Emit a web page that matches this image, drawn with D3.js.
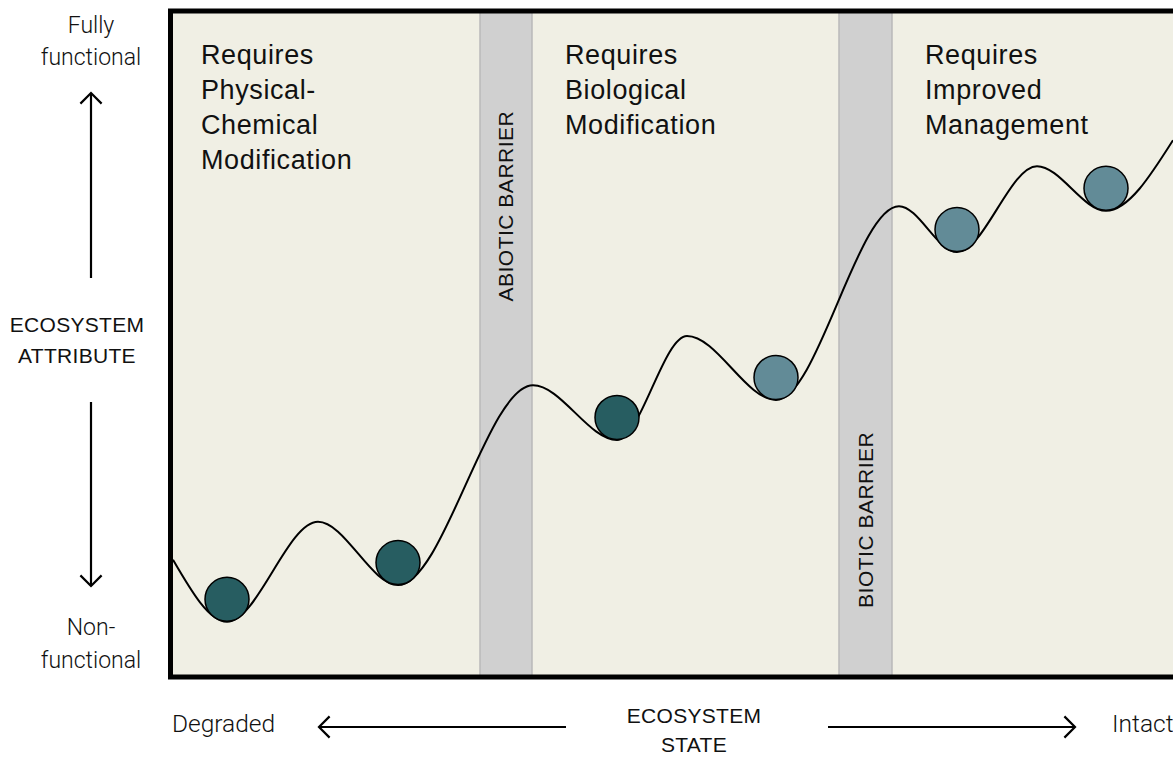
<!DOCTYPE html>
<html><head><meta charset="utf-8">
<script src="https://cdn.jsdelivr.net/npm/d3@7"></script>
<style>
html,body{margin:0;padding:0;background:#fff;}
svg{display:block;}
</style></head>
<body>
<svg id="chart" width="1173" height="757"></svg>
<script>
// ---- data (x: ecosystem state 0-100, y: ecosystem attribute 0-100) ----
const landscapeX = [0, 5.4, 14.5, 22.5, 36.0, 44.4, 51.4, 60.3, 72.6, 78.4, 86.4, 93.3, 100];
const landscapeY = [17.6, 8.3, 23.3, 13.8, 43.8, 35.6, 51.2, 41.6, 70.7, 63.8, 76.7, 70.0, 80.6];
const ballX = [5.4, 22.5, 44.4, 60.3, 78.4, 93.3];
const ballY = [8.3, 13.8, 35.6, 41.6, 63.8, 70.0];
const ballGroup = ["degraded", "degraded", "degraded", "improved", "improved", "improved"];
const barrierNames = ["ABIOTIC BARRIER", "BIOTIC BARRIER"];
const barrierStart = [30.7, 66.6];
const barrierEnd = [35.9, 71.9];
const barrierLabelY = [70.7, 23.6];
const zoneTitles = [["Requires", "Physical-", "Chemical", "Modification"],
                    ["Requires", "Biological", "Modification"],
                    ["Requires", "Improved", "Management"]];
const zoneStart = [2.8, 39.2, 75.2];

(function () {
const svg = d3.select("#chart");
const L0 = 173, R0 = 1173, T0 = 11, B0 = 677;
const x = d3.scaleLinear().domain([0, 100]).range([L0, R0]);
const y = d3.scaleLinear().domain([0, 100]).range([B0, T0]);
const color = d3.scaleOrdinal().domain(["degraded", "improved"]).range(["#275d61", "#628b97"]);
const sans = "'Liberation Sans', Arial, Helvetica, sans-serif";
const light = "Roboto, 'Liberation Sans', Arial, sans-serif";

// background
svg.append("rect").attr("x", L0).attr("y", T0).attr("width", R0 - L0 + 10).attr("height", B0 - T0).attr("fill", "#f0efe4");

// barriers
svg.selectAll("rect.barrier").data(barrierNames).enter().append("rect")
  .attr("class", "barrier")
  .attr("x", (d, i) => x(barrierStart[i]))
  .attr("y", T0)
  .attr("width", (d, i) => x(barrierEnd[i]) - x(barrierStart[i]))
  .attr("height", B0 - T0)
  .attr("fill", "#d0d0d0").attr("stroke", "#b9b9b9").attr("stroke-width", 1.5);

svg.selectAll("text.barrier").data(barrierNames).enter().append("text")
  .attr("class", "barrier")
  .attr("transform", (d, i) => `translate(${(x(barrierStart[i]) + x(barrierEnd[i])) / 2 + 7},${y(barrierLabelY[i])}) rotate(-90)`)
  .attr("text-anchor", "middle")
  .attr("font-family", sans).attr("font-size", 21).attr("letter-spacing", 0.5).attr("fill", "#111")
  .text(d => d);

// zone titles
zoneTitles.forEach((lines, i) => {
  const t = svg.append("text").attr("font-family", sans).attr("font-size", 27)
    .attr("letter-spacing", 0.6).attr("fill", "#111");
  lines.forEach((l, j) => {
    t.append("tspan").attr("x", x(zoneStart[i])).attr("y", 64 + j * 35).text(l);
  });
});

// landscape curve
const pts = landscapeX.map((d, i) => [x(d), y(landscapeY[i])]);
svg.append("clipPath").attr("id", "clip").append("rect")
  .attr("x", L0).attr("y", T0).attr("width", R0 - L0).attr("height", B0 - T0);
svg.append("path").attr("clip-path", "url(#clip)")
  .attr("d", d3.line().curve(d3.curveMonotoneX)(pts))
  .attr("fill", "none").attr("stroke", "#000").attr("stroke-width", 2);

// balls
const r = 22;
svg.selectAll("circle.ball").data(ballX).enter().append("circle")
  .attr("class", "ball")
  .attr("cx", d => x(d))
  .attr("cy", (d, i) => y(ballY[i]) - r - 0.5)
  .attr("r", r)
  .attr("fill", (d, i) => color(ballGroup[i]))
  .attr("stroke", "#000").attr("stroke-width", 1.5);

// frame (left, top, bottom)
svg.append("path")
  .attr("d", `M${R0 + 5},${T0} H${L0 - 2.5} V${B0} H${R0 + 5}`)
  .attr("fill", "none").attr("stroke", "#000").attr("stroke-width", 5);

// arrows
function arrow(x1, y1, x2, y2) {
  const g = svg.append("g");
  g.append("line").attr("x1", x1).attr("y1", y1).attr("x2", x2).attr("y2", y2)
    .attr("stroke", "#000").attr("stroke-width", 2.2);
  const ang = Math.atan2(y2 - y1, x2 - x1);
  const L = 15, a = Math.PI / 4;
  const p1 = [x2 - L * Math.cos(ang - a), y2 - L * Math.sin(ang - a)];
  const p2 = [x2 - L * Math.cos(ang + a), y2 - L * Math.sin(ang + a)];
  g.append("path").attr("d", `M${p1[0]},${p1[1]} L${x2},${y2} L${p2[0]},${p2[1]}`)
    .attr("fill", "none").attr("stroke", "#000").attr("stroke-width", 2.2);
}
arrow(91, 278, 91, 93);
arrow(91, 402, 91, 586);
arrow(566, 727, 319, 727);
arrow(828, 727, 1075, 727);

// axis labels
function label(txt, cx, cy, size, font, weight, anchor, ls) {
  svg.append("text").attr("x", cx).attr("y", cy).attr("text-anchor", anchor || "middle")
    .attr("font-family", font).attr("font-size", size).attr("font-weight", weight || 400)
    .attr("letter-spacing", ls || 0)
    .attr("fill", "#111").text(txt);
}
label("Fully", 91, 33, 23, light, 300);
label("functional", 91, 65, 23, light, 300);
label("Non-", 91, 635, 23, light, 300);
label("functional", 91, 668, 23, light, 300);
label("ECOSYSTEM", 77, 332, 21, sans, 400, "middle", 0.3);
label("ATTRIBUTE", 77, 363, 21, sans, 400, "middle", 0.3);
label("ECOSYSTEM", 694, 723, 21, sans, 400, "middle", 0.3);
label("STATE", 694, 752, 21, sans, 400, "middle", 0.3);
label("Degraded", 172, 732, 24.5, light, 300, "start");
label("Intact", 1112, 732, 24.5, light, 300, "start");
})();
</script>
</body></html>
